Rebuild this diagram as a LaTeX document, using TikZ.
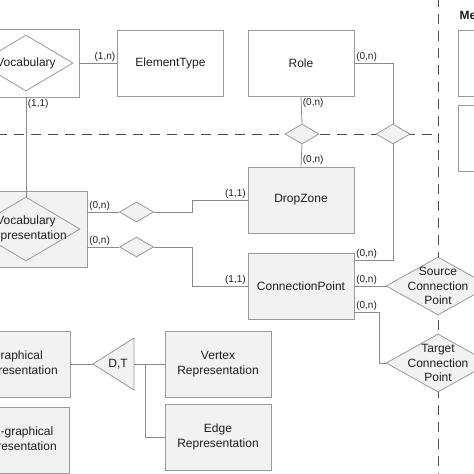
\documentclass[tikz,border=0pt]{standalone}
\usepackage{fontspec}
\setmainfont{Liberation Sans}
\usetikzlibrary{shapes.geometric}
\definecolor{lc}{HTML}{8A8A8A}
\definecolor{bc}{HTML}{9A9A9A}
\definecolor{gf}{HTML}{F2F2F2}
\definecolor{tc}{HTML}{1E1E1E}
\begin{document}
\begin{tikzpicture}[x=1pt,y=-1pt,
  ent/.style={rectangle, draw=bc, line width=0.8pt, fill=white, minimum width=106pt, minimum height=66pt, inner sep=0pt, align=center, font=\fontsize{12}{14.5}\selectfont, text=tc},
  gent/.style={ent, fill=gf},
  rel/.style={diamond, draw=bc, line width=0.8pt, fill=gf, inner sep=0pt, minimum width=34pt, minimum height=20pt},
  lbl/.style={align=center, font=\fontsize{12}{14.5}\selectfont, text=tc, inner sep=0pt},
  conn/.style={draw=lc, line width=0.8pt},
  card/.style={font=\fontsize{10}{12}\selectfont, text=tc, inner sep=1.5pt},
  sepline/.style={draw=black!70, line width=1pt, dash pattern=on 10pt off 7pt}]
\useasboundingbox (0,0) rectangle (474,474);
\clip (0,0) rectangle (474,474);
\fill[white] (0,0) rectangle (474,474);

% separators
\coordinate (hL) at (-3,134);
\coordinate (hR) at (438,134);
\coordinate (vT) at (438,-3);
\coordinate (vB) at (438,480);
\draw[sepline] (hL) -- (hR);
\draw[sepline] (vT) -- (vB);

% entities
\node[ent, minimum width=106pt, minimum height=68pt] (voc) at (26,63) {};
\node[rel, fill=white, minimum width=94pt, minimum height=56pt, label={[lbl]center:Vocabulary}] (vocd) at (26,63) {};
\node[ent] (et) at (170.5,63) {ElementType};
\node[ent] (role) at (301,63) {Role};
\node[gent] (dz) at (301,200) {DropZone};
\node[gent] (cp) at (301,286) {ConnectionPoint};
\node[gent, minimum width=122pt, minimum height=76pt] (vr) at (26,229) {};
\node[rel, minimum width=108pt, minimum height=64pt, label={[lbl]center:Vocabulary\\Representation}] (vrd) at (26,229) {};
\node[gent] (gr) at (17,364) {Graphical\\Representation};
\node[gent] (ng) at (16,440) {Non-graphical\\Representation};
\node[gent] (vx) at (218,364) {Vertex\\Representation};
\node[gent] (ed) at (218,437) {Edge\\Representation};
\node[ent] (m1) at (511,63) {};
\node[ent] (m2) at (511,138) {};
\node[font=\bfseries\fontsize{12}{14}\selectfont, text=tc, anchor=west, inner sep=0pt] (mt) at (459.5,15) {Me};

% relationships
\node[rel] (r1) at (302,134) {};
\node[rel] (r2) at (393,134) {};
\node[rel] (r3) at (136.5,212) {};
\node[rel] (r4) at (136.5,247) {};
\node[rel, minimum width=104pt, minimum height=58pt, label={[lbl]center:Source\\Connection\\Point}] (scp) at (438,286) {};
\node[rel, minimum width=104pt, minimum height=58pt, label={[lbl]center:Target\\Connection\\Point}] (tcp) at (438,363) {};

% specialisation triangle
\coordinate (dtL) at (93,364);
\coordinate (dtR) at (134,364);
\coordinate (jn) at (145,364);
\draw[draw=bc, line width=0.8pt, fill=gf] (dtL) -- (134,338) -- (134,390) -- cycle;
\node[lbl] (dt) at (118,364) {D,T};

% connectors
\draw[conn] (voc.east) -- node[card, anchor=south east, pos=1] {(1,n)} (et.west);
\draw[conn] (voc.south) -- node[card, anchor=north west, pos=0] {(1,1)} (vrd.north);
\draw[conn] (role.east) -- node[card, anchor=south west, pos=0] {(0,n)} (r2.north |- role.east) -- (r2.north);
\draw[conn] (role.south) -- node[card, anchor=north west, pos=0] {(0,n)} (r1.north);
\draw[conn] (r1.south) -- node[card, anchor=south west, pos=1] {(0,n)} (dz.north);
\draw[conn] ([yshift=26pt]cp.east) -| node[card, anchor=south west, pos=0] {(0,n)} (r2.south);
\draw[conn] (cp.east) -- node[card, anchor=south west, pos=0] {(0,n)} (scp.west);
\draw[conn] ([yshift=-26pt]cp.east) -- node[card, anchor=south west, pos=0] {(0,n)} (379,312) |- (tcp.west);
\draw[conn] ([yshift=17pt]vr.east) -- node[card, anchor=south west, pos=0] {(0,n)} (r3.west);
\draw[conn] (r3.east) -- (192,212) |- node[card, anchor=south east, pos=1] {(1,1)} (dz.west);
\draw[conn] ([yshift=-18pt]vr.east) -- node[card, anchor=south west, pos=0] {(0,n)} (r4.west);
\draw[conn] (r4.east) -- (192,247) |- node[card, anchor=south east, pos=1] {(1,1)} (cp.west);
\draw[conn] (gr.east) -- (dtL);
\draw[conn] (dtR) -- (vx.west);
\draw[conn] (jn) |- (ed.west);
\end{tikzpicture}
\end{document}
